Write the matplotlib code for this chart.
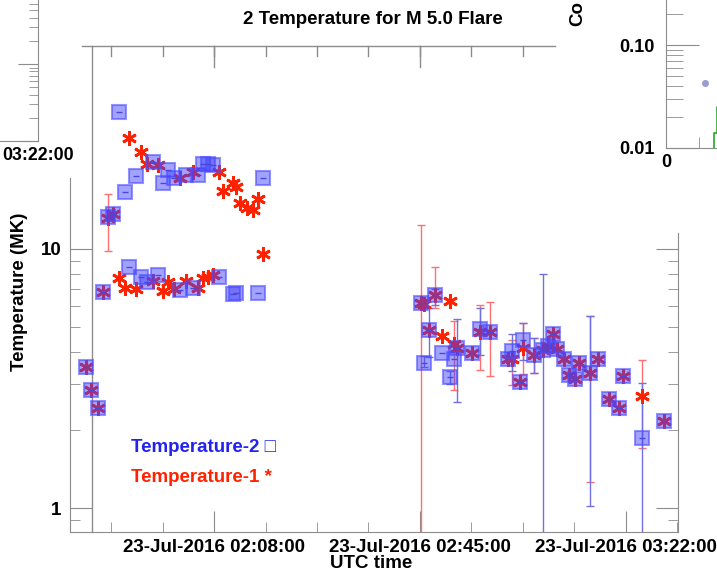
import matplotlib
matplotlib.use("Agg")
import matplotlib.pyplot as plt
import matplotlib.dates as mdates
import matplotlib.ticker as mticker
from matplotlib.transforms import blended_transform_factory
import numpy as np
import pandas as pd

plt.rcParams['font.family'] = ['Liberation Sans', 'DejaVu Sans']
plt.rcParams['font.weight'] = 'bold'

nan = np.nan
day = "2016-07-23 "

# two-temperature fit results (MK), UTC times
times = ["01:44:56", "01:45:50", "01:47:05", "01:47:59", "01:48:56", "01:49:50",
         "01:50:58", "01:51:54", "01:52:46", "01:53:58", "01:54:52", "01:56:00",
         "01:57:02", "01:57:59", "01:58:53", "01:59:47", "02:00:49", "02:01:48",
         "02:02:53", "02:04:08", "02:05:07", "02:05:56", "02:06:50", "02:07:52",
         "02:08:54", "02:09:40", "02:11:25", "02:11:52", "02:12:41", "02:13:59",
         "02:14:58", "02:15:58", "02:16:49",
         "02:45:13", "02:45:46", "02:46:43", "02:47:44", "02:49:00", "02:50:26",
         "02:51:10", "02:51:45", "02:54:20", "02:55:43", "02:57:38", "03:00:55",
         "03:01:35", "03:03:02", "03:03:37", "03:05:36", "03:07:10", "03:08:07",
         "03:09:01", "03:09:44", "03:10:59", "03:11:43", "03:12:55", "03:13:41",
         "03:15:37", "03:17:00", "03:18:56", "03:20:53", "03:21:36", "03:24:58",
         "03:28:48"]
temp1 = [3.50, 2.86, 2.43, 6.83, 13.13, 13.63, 7.72, 7.04, 26.66, 6.96, 23.67, 21.17,
         7.53, 21.04, 6.85, 7.42, 7.00, 18.70, 7.53, 19.66, 7.06, 7.74, 7.76, 7.94,
         19.83, 16.71, 17.83, 17.21, 14.94, 14.34, 14.09, 15.53, 9.54,
         6.20, 6.13, 4.84, 6.60, 4.60, 6.31, 4.30, 4.15, 3.97, 4.76, 4.76, 3.74,
         3.77, 3.06, 4.15, 3.90, 4.08, 4.20, 4.67, 4.11, 3.77, 3.27, 3.15, 3.63,
         3.33, 3.75, 2.63, 2.44, 3.22, 2.70, 2.16]
temp2 = [3.50, 2.86, 2.43, 6.83, 13.28, 13.63, 33.7, 16.57, 8.53, 19.13, 7.76, 7.42,
         21.61, 7.92, 17.89, 20.13, 18.70, 6.94, 19.20, 7.04, 19.20, 21.29, 21.29, 21.04,
         7.80, nan, 6.70, 6.75, nan, nan, nan, 6.73, 18.76,
         6.20, 3.63, 4.84, 6.60, 3.97, 3.20, 3.77, 4.15, 3.97, 4.88, 4.76, 3.74,
         4.05, 3.06, 4.46, 3.90, 4.08, 4.20, 4.67, 4.11, 3.77, 3.27, 3.15, 3.63,
         3.33, 3.75, 2.63, 2.44, 3.22, 1.86, 2.16]

# error ranges
err1_times = ["01:48:56", "02:45:13", "02:47:44", "02:51:10", "02:55:43", "02:57:38",
              "03:01:35", "03:03:37", "03:05:36", "03:15:37", "03:24:58"]
err1_lo = [9.82, 0.5, 5.88, 2.84, 3.42, 3.22, 2.97, 3.28, 3.31, 1.26, 1.70]
err1_hi = [16.27, 12.37, 8.48, 5.25, 6.09, 6.22, 4.43, 5.18, 4.52, 5.48, 3.71]
err2_times = ["02:45:46", "02:46:43", "02:47:44", "02:50:26", "02:51:45", "02:55:43",
              "03:01:35", "03:03:37", "03:05:36", "03:07:10", "03:15:37", "03:24:58"]
err2_lo = [3.50, 3.82, 6.04, 3.00, 2.56, 3.90, 3.37, 3.71, 3.31, 0.5, 1.02, 0.5]
err2_hi = [3.85, 5.89, 6.96, 3.37, 5.37, 5.92, 4.70, 5.15, 4.52, 7.99, 5.52, 3.03]

major_times = ["02:08:00", "02:45:00", "03:22:00"]

# light-curve panel bits (upper right)
counts_x = [1.35, 1.43, 1.52, 1.70]
counts_y = [0.0095, 0.014, 0.025, 0.03]
dot_x = [1.17]
dot_y = [0.043]

W, H = 717, 572
gray = '#8c8c8c'
red = '#ff2200'
blue = '#2323f0'
fs = 13.5


def px_box(left, top, right, bottom):
    return [left / W, 1 - bottom / H, (right - left) / W, (bottom - top) / H]


def to_dt(ts):
    return pd.to_datetime([day + t for t in ts])


fig = plt.figure(figsize=(W / 100, H / 100), dpi=100)

# neighbouring panel on the left, only its right edge is in view
axl = fig.add_axes(px_box(-300, -20, 38, 141))
axl.set_facecolor('none')
axl.set_yscale('log')
axl.set_ylim(1, 10 ** (161 / 77))
axl.set_xlim(0, 1)
for s in ('left', 'top'):
    axl.spines[s].set_visible(False)
for s in ('right', 'bottom'):
    axl.spines[s].set_color(gray)
axl.yaxis.set_ticks_position('right')
axl.tick_params(axis='y', which='major', direction='in', length=14.5, color=gray, labelright=False)
axl.tick_params(axis='y', which='minor', direction='in', length=6.5, color=gray, labelright=False)
axl.set_xticks([1])
axl.set_xticklabels(['03:22:00'])
axl.tick_params(axis='x', direction='in', length=0, labelsize=12.8, pad=4)

# light-curve panel in the upper right corner
axr = fig.add_axes(px_box(666, -20, 866, 148))
axr.set_facecolor('none')
axr.set_yscale('log')
axr.set_ylim(0.01, 10 ** (-2 + 168 / 103))
axr.set_xlim(0, 6)
for s in ('right', 'top'):
    axr.spines[s].set_visible(False)
for s in ('left', 'bottom'):
    axr.spines[s].set_color(gray)
axr.yaxis.set_major_locator(mticker.FixedLocator([0.01, 0.1]))
axr.yaxis.set_major_formatter(mticker.FormatStrFormatter('%.2f'))
axr.yaxis.set_minor_locator(mticker.LogLocator(subs=np.arange(2, 10)))
axr.yaxis.set_minor_formatter(mticker.NullFormatter())
axr.tick_params(axis='y', which='major', direction='in', length=24, color=gray, labelsize=13, pad=8)
axr.tick_params(axis='y', which='minor', direction='in', length=12, color=gray)
axr.set_xticks([0])
axr.set_xticklabels(['0'])
axr.set_xticks([1, 2, 3, 4], minor=True)
axr.tick_params(axis='x', which='major', direction='in', length=0, labelsize=13, pad=4)
axr.tick_params(axis='x', which='minor', direction='in', length=8, color=gray)
axr.step(counts_x, counts_y, where='post', color='#22aa22', lw=1.2)
axr.plot(dot_x, dot_y, 'o', ms=4, color='#9c9cd0')
fig.text(578 / W, 1 - 1 / H, 'Co', rotation=90, ha='center', va='top', fontsize=fs)

# temperature panel
ax = fig.add_axes(px_box(70, 46, 678, 532))
ax.set_facecolor('none')
ax.set_yscale('log')
ax.set_ylim(0.809, 60.4)
ax.set_xlim(to_dt(["01:42:06"])[0], to_dt(["03:31:24"])[0])

t = to_dt(times)
ax.vlines(to_dt(err1_times), err1_lo, err1_hi, color='#ff7070', lw=1, zorder=2)
ax.plot(to_dt(err1_times), err1_lo, '_', ms=6, mew=1, color='#ff7070', zorder=2)
ax.plot(to_dt(err1_times), err1_hi, '_', ms=6, mew=1, color='#ff7070', zorder=2)
ax.vlines(to_dt(err2_times), err2_lo, err2_hi, color='#7070e0', lw=1, zorder=2)
ax.plot(to_dt(err2_times), err2_lo, '_', ms=6, mew=1, color='#7070e0', zorder=2)
ax.plot(to_dt(err2_times), err2_hi, '_', ms=6, mew=1, color='#7070e0', zorder=2)

ax.plot(t, temp1, ls='none', marker=(6, 2, 0), ms=10.5, mew=2.0, mec=red, zorder=3)
ax.plot(t, temp2, ls='none', marker='s', ms=9.5, mfc=(0.25, 0.25, 1.0, 0.48),
        mec=(0.3, 0.3, 1.0, 0.6), mew=1.5, zorder=4)
ax.plot(t, temp2, ls='none', marker='_', ms=4, mew=1, mec='#4848d8', zorder=5)

ax.spines['top'].set_visible(False)
for s in ('left', 'right', 'bottom'):
    ax.spines[s].set_color(gray)
ax.spines['left'].set_bounds(0.809, 18.76)
ax.spines['right'].set_bounds(0.809, 11.52)

major = mdates.date2num(to_dt(major_times))
step = 9.25 / 1440
minor = major[0] + step * np.arange(-2, 10)
ax.xaxis.set_major_locator(mticker.FixedLocator(major))
ax.xaxis.set_minor_locator(mticker.FixedLocator(minor))
ax.xaxis.set_major_formatter(mdates.DateFormatter('%d-%b-%Y %H:%M:%S'))
ax.tick_params(axis='x', which='major', direction='in', length=15, color=gray, labelsize=fs, pad=5)
ax.tick_params(axis='x', which='minor', direction='in', length=7, color=gray)

ax.yaxis.set_major_locator(mticker.FixedLocator([1, 10]))
ax.yaxis.set_minor_locator(mticker.FixedLocator([0.9, 2, 3, 4, 5, 6, 7, 8, 9]))
ax.yaxis.set_major_formatter(mticker.FuncFormatter(lambda v, _: f'{v:g}'))
ax.yaxis.set_minor_formatter(mticker.NullFormatter())
ax.tick_params(axis='y', which='both', left=True, right=True, labelright=False, direction='in', color=gray)
ax.tick_params(axis='y', which='major', length=16, labelsize=fs, pad=6)
ax.tick_params(axis='y', which='minor', length=7.5)

# upper frame line with its own ticks, and the inner left edge
top_l, top_r = 12 / 608, 485 / 608
ax.plot([top_l, top_r], [1, 1], color=gray, lw=1, transform=ax.transAxes, clip_on=False)
ax.plot([22 / 608, 22 / 608], [0, 1], color=gray, lw=1, transform=ax.transAxes, clip_on=False)
trans = blended_transform_factory(ax.transData, ax.transAxes)
x0, x1 = ax.get_xlim()
for xs, ln in ((major, 21 / 486), (minor, 10 / 486)):
    for xv in xs:
        frac = (xv - x0) / (x1 - x0)
        if top_l <= frac <= top_r:
            ax.plot([xv, xv], [1, 1 - ln], color=gray, lw=1, transform=trans, clip_on=False)

fig.text(373 / W, 1 - 20 / H, '2 Temperature for M 5.0 Flare', ha='center', va='center', fontsize=fs)
fig.text(371 / W, 1 - 563 / H, 'UTC time', ha='center', va='center', fontsize=fs)
fig.text(20 / W, 1 - 292 / H, 'Temperature (MK)', rotation=90, ha='center', va='center', fontsize=fs)
fig.text(131 / W, 1 - 448 / H, 'Temperature-2 \u25a1', color=blue, ha='left', va='center', fontsize=fs)
fig.text(131 / W, 1 - 478 / H, 'Temperature-1 *', color=red, ha='left', va='center', fontsize=fs)

fig.savefig('out.png', dpi=100)
